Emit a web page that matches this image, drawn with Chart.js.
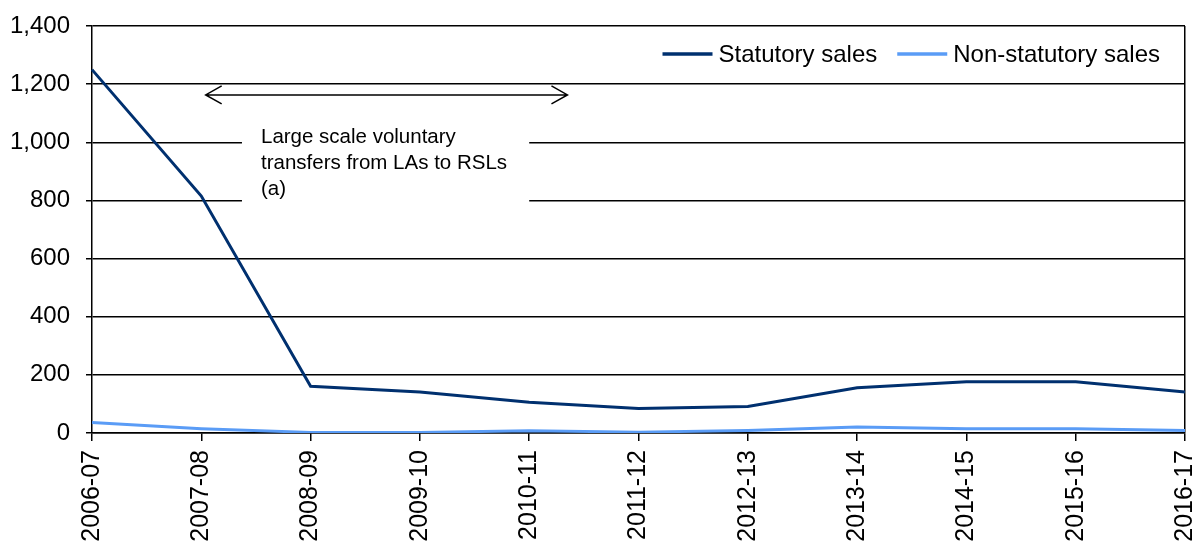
<!DOCTYPE html>
<html>
<head>
<meta charset="utf-8">
<script src="https://cdn.jsdelivr.net/npm/chart.js@4.4.1/dist/chart.umd.min.js"></script>
<style>
  html, body { margin: 0; padding: 0; background: #fff; }
  #wrap { width: 1198px; height: 547px; }
</style>
</head>
<body>
<div id="wrap"><canvas id="c"></canvas></div>
<script>
const years = ['2006-07', '2007-08', '2008-09', '2009-10', '2010-11', '2011-12',
               '2012-13', '2013-14', '2014-15', '2015-16', '2016-17'];
const statutory = [1250, 815, 161, 141, 106, 84, 91, 156, 176, 176, 141];
const nonStatutory = [36, 15, 2, 2, 8, 3, 9, 21, 15, 15, 9];
const yTicks = [0, 200, 400, 600, 800, 1000, 1200, 1400];

const seriesNames = ['Statutory sales', 'Non-statutory sales'];
const seriesColors = ['#00306f', '#5a9cf6'];

const noteLines = ['Large scale voluntary', 'transfers from LAs to RSLs', '(a)'];
const arrowFrom = 1.04, arrowTo = 4.35, arrowValue = 1163;

const FONT = '"Liberation Sans", Arial, sans-serif';

// white box with the note, and the double-headed arrow
const notePlugin = {
    id: 'note',
    beforeDatasetsDraw(chart) {
        const { ctx } = chart;
        const x = chart.scales.x, y = chart.scales.y;
        ctx.save();
        ctx.fillStyle = '#fff';
        const bx1 = x.getPixelForValue(1.372), bx2 = x.getPixelForValue(4.0);
        const by1 = y.getPixelForValue(1100), by2 = y.getPixelForValue(700);
        ctx.fillRect(bx1, by1, bx2 - bx1, by2 - by1);

        ctx.fillStyle = '#000';
        ctx.font = '20.5px ' + FONT;
        ctx.textBaseline = 'alphabetic';
        const tx = x.getPixelForValue(1.546);
        const ty = y.getPixelForValue(998);
        noteLines.forEach((t, i) => ctx.fillText(t, tx, ty + i * 26));

        // arrow
        const ax1 = x.getPixelForValue(arrowFrom), ax2 = x.getPixelForValue(arrowTo);
        const ay = y.getPixelForValue(arrowValue);
        ctx.strokeStyle = '#000';
        ctx.lineWidth = 1.5;
        ctx.beginPath();
        ctx.moveTo(ax1, ay); ctx.lineTo(ax2, ay);
        ctx.moveTo(ax1 + 16, ay - 9); ctx.lineTo(ax1, ay); ctx.lineTo(ax1 + 16, ay + 9);
        ctx.moveTo(ax2 - 16, ay - 9); ctx.lineTo(ax2, ay); ctx.lineTo(ax2 - 16, ay + 9);
        ctx.stroke();
        ctx.restore();
    }
};

// legend drawn inside the plot, top right
const legendPlugin = {
    id: 'insideLegend',
    afterDraw(chart) {
        const { ctx, chartArea } = chart;
        ctx.save();
        ctx.font = '24px ' + FONT;
        ctx.textBaseline = 'middle';
        const ly = chartArea.top + 28;
        let xr = chartArea.right - 25;
        const items = seriesNames.map((n, i) => ({ n, c: seriesColors[i], w: ctx.measureText(n).width }));
        const pos = [];
        for (let i = items.length - 1; i >= 0; i--) {
            const tx = xr - items[i].w;
            pos[i] = tx;
            xr = tx - 6 - 50 - 20;
        }
        items.forEach((it, i) => {
            const tx = pos[i];
            ctx.strokeStyle = it.c;
            ctx.lineWidth = 3.5;
            ctx.beginPath();
            ctx.moveTo(tx - 56, ly); ctx.lineTo(tx - 6, ly);
            ctx.stroke();
            ctx.fillStyle = '#000';
            ctx.fillText(it.n, tx, ly + 1);
        });
        ctx.restore();
    }
};

new Chart(document.getElementById('c'), {
    type: 'line',
    data: {
        labels: years,
        datasets: [
            { label: seriesNames[0], data: statutory, borderColor: seriesColors[0], borderWidth: 3, pointRadius: 0, tension: 0 },
            { label: seriesNames[1], data: nonStatutory, borderColor: seriesColors[1], borderWidth: 3, pointRadius: 0, tension: 0 }
        ]
    },
    options: {
        responsive: true,
        maintainAspectRatio: false,
        animation: false,
        layout: { padding: { top: 26, right: 13, left: 0, bottom: 0 } },
        plugins: { legend: { display: false }, tooltip: { enabled: false } },
        scales: {
            x: {
                offset: false,
                grid: {
                    color: ctx => ctx.index === years.length - 1 ? '#000' : 'rgba(0,0,0,0)',
                    lineWidth: 1.5,
                    tickColor: '#000',
                    tickLength: 8
                },
                border: { color: '#000', width: 1.5 },
                ticks: {
                    color: '#000',
                    font: { family: FONT, size: 25 },
                    minRotation: 90, maxRotation: 90,
                    padding: 9,
                    autoSkip: false
                },
                afterFit(scale) {
                    scale.height = 114;
                    scale.paddingRight = 0;
                    scale.paddingLeft = 0;
                }
            },
            y: {
                min: 0, max: 1400,
                afterBuildTicks(scale) { scale.ticks = yTicks.map(v => ({ value: v })); },
                grid: { color: '#000', lineWidth: 1.5, tickColor: '#000', tickLength: 6 },
                border: { color: '#000', width: 1.5 },
                ticks: {
                    color: '#000',
                    font: { family: FONT, size: 24 },
                    padding: 16,
                    callback: v => v.toLocaleString('en-GB')
                },
                afterFit(scale) {
                    scale.width = 92;
                    scale.paddingTop = 0;
                    scale.paddingBottom = 0;
                }
            }
        }
    },
    plugins: [notePlugin, legendPlugin]
});
</script>
</body>
</html>
